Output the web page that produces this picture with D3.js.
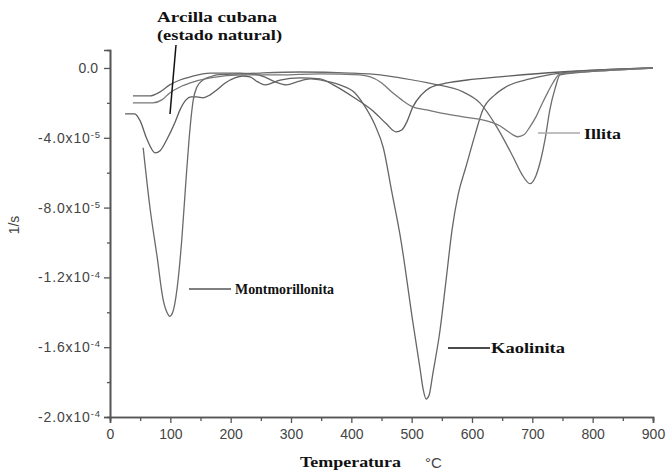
<!DOCTYPE html>
<html>
<head>
<meta charset="utf-8">
<script src="https://cdn.jsdelivr.net/npm/d3@7"></script>
<style>
  html, body { margin: 0; padding: 0; background: #fff; }
  svg { display: block; }
</style>
</head>
<body>
<svg id="chart" width="666" height="472"></svg>
<script>
// ---- data (values in units of 1e-5 1/s) ----
const natT = [25,41,50,61,75,83,94,108,116,126,134,144,154,166,177,191,207,220,232,245,257,269,282,315,348,370,403,436,458,474,484,492,502,516,530,559,592,646,746,900];
const natV = [-2.63,-2.63,-3.03,-4.06,-4.86,-4.74,-4.11,-3.09,-2.40,-1.83,-1.66,-1.66,-1.71,-1.54,-1.26,-0.86,-0.57,-0.46,-0.51,-0.80,-0.97,-0.86,-0.69,-0.57,-0.63,-0.97,-1.66,-2.46,-3.20,-3.66,-3.54,-3.09,-2.23,-1.54,-1.14,-0.86,-0.69,-0.51,-0.23,0];

const monT = [55,66,78,88,96,99,104,111,119,126,131,138,144,154,166,177,216,249,315,398,448,481,535,585,613,641,668,683,696,706,714,721,729,738,746,812,900];
const monV = [-4.57,-7.94,-10.8,-13.26,-14.11,-14.23,-14.0,-12.69,-9.83,-6.40,-4.11,-1.83,-1.09,-0.69,-0.51,-0.40,-0.34,-0.29,-0.23,-0.29,-0.40,-0.57,-0.91,-1.37,-2.00,-3.37,-5.09,-6.11,-6.63,-6.17,-5.26,-4.11,-2.40,-1.14,-0.40,-0.17,0];

const kaoT = [38,66,83,99,116,133,166,216,252,274,293,310,332,356,381,406,424,439,453,467,482,502,514,519,524,529,535,547,557,567,577,590,605,618,638,656,696,746,812,900];
const kaoV = [-1.60,-1.60,-1.37,-0.97,-0.69,-0.51,-0.29,-0.29,-0.46,-0.80,-0.97,-0.80,-0.63,-0.74,-0.97,-1.43,-2.29,-3.26,-4.57,-7.09,-9.83,-14.57,-17.26,-18.40,-18.97,-18.74,-17.54,-15.03,-12.17,-9.26,-7.26,-5.66,-3.83,-2.40,-1.54,-1.09,-0.63,-0.29,-0.11,0];

const illT = [38,71,86,99,116,133,166,220,282,348,414,448,469,486,502,525,547,585,630,646,658,668,676,686,696,706,716,726,734,746,812,900];
const illV = [-2.00,-2.00,-1.83,-1.43,-1.09,-0.86,-0.57,-0.40,-0.40,-0.34,-0.40,-0.80,-1.43,-1.89,-2.23,-2.40,-2.57,-2.80,-3.09,-3.31,-3.60,-3.83,-3.94,-3.83,-3.37,-2.80,-2.06,-1.37,-0.86,-0.34,-0.17,0];

const xTicks = [0,100,200,300,400,500,600,700,800,900];
const xMinor = [50,150,250,350,450,550,650,750,850];
const yTicks = [0,-4,-8,-12,-16,-20];
const yMinor = [-2,-6,-10,-14,-18];
const yTickMant = ["0.0","-4.0","-8.0","-1.2","-1.6","-2.0"];
const yTickExp  = ["","-5","-5","-4","-4","-4"];

// ---- scales ----
const svg = d3.select("#chart");
const x = d3.scaleLinear().domain([0, 900]).range([110, 653]);
const y = d3.scaleLinear().domain([-20, 1.03]).range([417, 50]);

const axisColor = "#555";
const tickFont = "'Liberation Sans', Arial, sans-serif";
const serif = "'Liberation Serif', 'Times New Roman', serif";

// ---- axes ----
const gx = svg.append("g").attr("transform", `translate(0,${y(-20)})`)
  .call(d3.axisBottom(x).tickValues(xTicks).tickSize(6).tickPadding(6).tickFormat(d3.format("d")));
const gxm = svg.append("g").attr("transform", `translate(0,${y(-20)})`)
  .call(d3.axisBottom(x).tickValues(xMinor).tickSize(4).tickFormat(""));
const gy = svg.append("g").attr("transform", `translate(${x(0)},0)`)
  .call(d3.axisLeft(y).tickValues(yTicks).tickSize(6).tickPadding(4).tickFormat(""));
const gym = svg.append("g").attr("transform", `translate(${x(0)},0)`)
  .call(d3.axisLeft(y).tickValues(yMinor).tickSize(3).tickFormat(""));

[gx, gxm, gy, gym].forEach(g => {
  g.select(".domain").attr("stroke", axisColor).attr("stroke-width", 1.6);
  g.selectAll(".tick line").attr("stroke", axisColor).attr("stroke-width", 1.3);
});
gx.selectAll(".tick text").attr("font-family", tickFont).attr("font-size", 14).attr("fill", "#444");

gy.selectAll(".tick text").each(function(d, i) {
  const t = d3.select(this).attr("font-family", tickFont).attr("font-size", 14).attr("fill", "#444");
  t.text(null);
  if (yTickExp[i] === "") {
    t.attr("dx", -2).append("tspan").text(yTickMant[i]);
  } else {
    t.append("tspan").text(yTickMant[i] + "x10");
    t.append("tspan").attr("dy", "-0.5em").attr("font-size", 9.5).text(yTickExp[i]);
    t.attr("textLength", 62);
  }
});

// ---- curves ----
const line = d3.line().x(d => x(d[0])).y(d => y(d[1])).curve(d3.curveMonotoneX);
const series = [
  {T: natT, V: natV, c: "#5e5e5e"},
  {T: monT, V: monV, c: "#6a6a6a"},
  {T: kaoT, V: kaoV, c: "#666"},
  {T: illT, V: illV, c: "#777"}
];
series.forEach(s => {
  svg.append("path")
    .datum(s.T.map((t, i) => [t, s.V[i]]))
    .attr("d", line)
    .attr("fill", "none")
    .attr("stroke", s.c)
    .attr("stroke-width", 1.3);
});

// ---- annotations ----
function label(txt, xx, yy, w, size, adj) {
  svg.append("text").attr("x", xx).attr("y", yy)
    .attr("font-family", serif).attr("font-weight", "bold").attr("font-size", size || 14)
    .attr("fill", "#111")
    .attr("textLength", w).attr("lengthAdjust", adj || "spacingAndGlyphs")
    .text(txt);
}
label("Arcilla cubana", 157, 22, 120, 15);
label("(estado natural)", 157, 40, 125, 15);
svg.append("line").attr("x1", 176).attr("y1", 45).attr("x2", 170).attr("y2", 114)
  .attr("stroke", "#111").attr("stroke-width", 1.5);

label("Montmorillonita", 235, 294, 99, 14.5);
svg.append("line").attr("x1", 189).attr("y1", 289).attr("x2", 231).attr("y2", 289)
  .attr("stroke", "#555").attr("stroke-width", 1.3);

label("Kaolinita", 491, 353, 74, 15);
svg.append("line").attr("x1", 448).attr("y1", 348).attr("x2", 490).attr("y2", 348)
  .attr("stroke", "#111").attr("stroke-width", 1.3);

label("Illita", 584, 139, 37, 15);
svg.append("line").attr("x1", 538).attr("y1", 133).attr("x2", 580).attr("y2", 133)
  .attr("stroke", "#aaa").attr("stroke-width", 1.6);

// axis titles
label("Temperatura", 300, 467, 101, 15);
svg.append("text").attr("x", 425).attr("y", 468)
  .attr("font-family", tickFont).attr("font-size", 15).attr("fill", "#444").text("°C");
svg.append("text").attr("transform", "translate(19,225) rotate(-90)")
  .attr("text-anchor", "middle")
  .attr("font-family", tickFont).attr("font-size", 14).attr("fill", "#444").text("1/s");
</script>
</body>
</html>
